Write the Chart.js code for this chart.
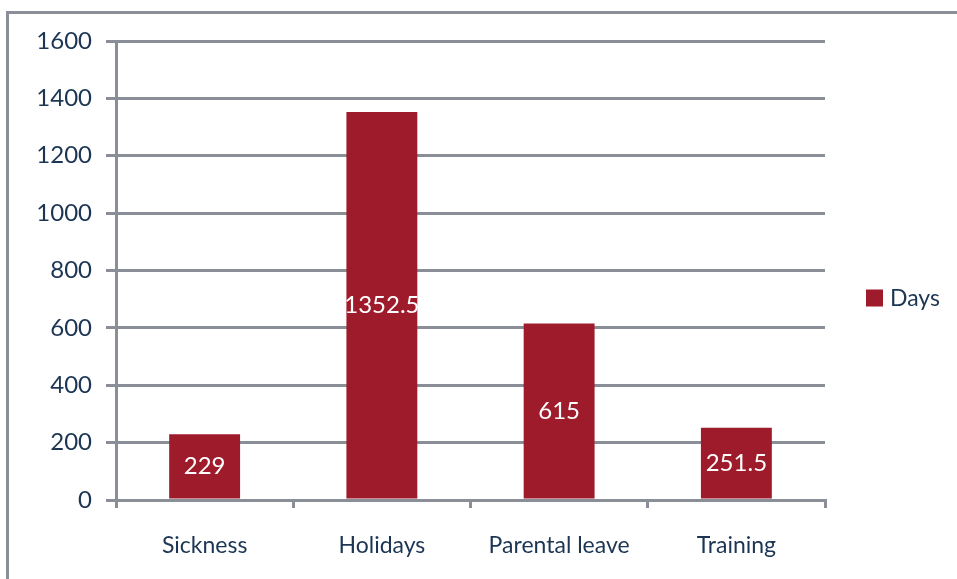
<!DOCTYPE html>
<html>
<head>
<meta charset="utf-8">
<script src="https://cdn.jsdelivr.net/npm/chart.js@4/dist/chart.umd.min.js"></script>
<style>
  html, body { margin: 0; padding: 0; background: #fff; }
  #wrap { position: relative; width: 957px; height: 579px; overflow: hidden; }
  #frame { position: absolute; left: 6px; top: 11px; width: 1000px; height: 700px;
           border: 3px solid #8a8e97; box-sizing: border-box; }
  canvas { position: absolute; left: 0; top: 0; }
</style>
</head>
<body>
<div id="wrap">
  <div id="frame"></div>
  <canvas id="absenceChart" width="957" height="579"></canvas>
</div>
<script>
// categories and values
const categories = ['Sickness', 'Holidays', 'Parental leave', 'Training'];
const daysValues = [229, 1352.5, 615, 251.5];
const seriesLabel = 'Days';
const yTicks = [0, 200, 400, 600, 800, 1000, 1200, 1400, 1600];

const barColor = '#9d1b2a';
const gridColor = '#8a8e97';
const textColor = '#1b3553';
const fontFamily = 'Lato, "Open Sans", sans-serif';

// white value labels in the middle of each bar
const barLabels = {
    id: 'barLabels',
    afterDatasetsDraw(chart) {
        const ctx = chart.ctx;
        const meta = chart.getDatasetMeta(0);
        ctx.save();
        ctx.fillStyle = '#ffffff';
        ctx.font = '24px ' + fontFamily;
        ctx.textAlign = 'center';
        ctx.textBaseline = 'middle';
        meta.data.forEach((bar, i) => {
            const mid = (bar.y + bar.base) / 2;
            ctx.fillText(String(chart.data.datasets[0].data[i]), bar.x, mid);
        });
        ctx.restore();
    }
};

// simple legend on the right, like the office chart
const sideLegend = {
    id: 'sideLegend',
    afterDraw(chart) {
        const ctx = chart.ctx;
        const area = chart.chartArea;
        const ds = chart.data.datasets[0];
        const x = area.right + 41;
        const y = (area.top + area.bottom) / 2 + 28;
        ctx.save();
        ctx.fillStyle = ds.backgroundColor;
        ctx.fillRect(x, y - 9, 17, 17);
        ctx.fillStyle = textColor;
        ctx.font = '23px ' + fontFamily;
        ctx.textBaseline = 'middle';
        ctx.fillText(ds.label, x + 24, y);
        ctx.restore();
    }
};

const ctx = document.getElementById('absenceChart').getContext('2d');
new Chart(ctx, {
    type: 'bar',
    data: {
        labels: categories,
        datasets: [{
            label: seriesLabel,
            data: daysValues,
            backgroundColor: barColor,
            borderWidth: 0,
            barPercentage: 0.4,
            categoryPercentage: 1.0
        }]
    },
    options: {
        responsive: false,
        animation: false,
        layout: { padding: { left: 0, top: 41, right: 132, bottom: 0 } },
        plugins: {
            legend: { display: false },
            tooltip: { enabled: false }
        },
        scales: {
            y: {
                min: 0,
                max: 1600,
                afterBuildTicks(axis) {
                    axis.ticks = yTicks.map(v => ({ value: v }));
                },
                afterFit(axis) { axis.width = 116; },
                border: { display: true, color: gridColor, width: 3 },
                grid: { color: gridColor, lineWidth: 3, drawTicks: true, tickLength: 10 },
                ticks: {
                    color: textColor,
                    padding: 14,
                    font: { family: fontFamily, size: 24 },
                    callback: v => String(v)
                }
            },
            x: {
                afterFit(axis) { axis.height = 79; },
                border: { display: true, color: gridColor, width: 3 },
                grid: {
                    offset: true,
                    drawOnChartArea: false,
                    color: gridColor,
                    lineWidth: 3,
                    tickLength: 8
                },
                ticks: {
                    color: textColor,
                    padding: 24,
                    maxRotation: 0,
                    font: { family: fontFamily, size: 23 }
                }
            }
        }
    },
    plugins: [barLabels, sideLegend]
});
</script>
</body>
</html>
